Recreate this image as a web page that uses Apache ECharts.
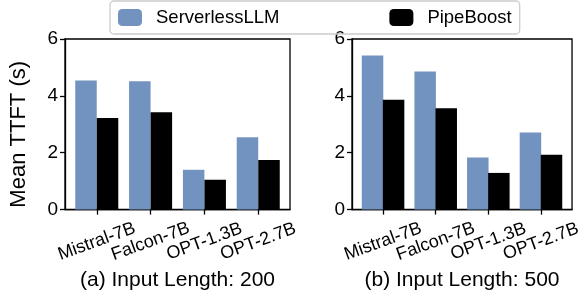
<!DOCTYPE html>
<html>
<head>
<meta charset="utf-8">
<script src="https://cdn.jsdelivr.net/npm/echarts@6/dist/echarts.min.js"></script>
<style>
  html, body { margin: 0; padding: 0; background: #fff; }
  #chart { width: 584px; height: 296px; }
</style>
</head>
<body>
<div id="chart"></div>
<script>
// data
var models = ['Mistral-7B', 'Falcon-7B', 'OPT-1.3B', 'OPT-2.7B'];
var sllm200 = [4.54, 4.51, 1.40, 2.54];
var boost200 = [3.22, 3.42, 1.05, 1.74];
var sllm500 = [5.42, 4.86, 1.83, 2.71];
var boost500 = [3.86, 3.56, 1.29, 1.93];
var yTicks = [0, 2, 4, 6];
var captions = ['(a) Input Length: 200', '(b) Input Length: 500'];

var FONT = 'Liberation Sans, Arial, sans-serif';
var BLUE = '#7293c0';

var chart = echarts.init(document.getElementById('chart'));

// bar centre = category index +/- half a bar (matplotlib style)
function place(vals, shift) {
    return vals.map(function(v, i) { return [i + shift, v]; });
}

function xAxisFor(gi) {
    return {
        type: 'value', gridIndex: gi,
        min: -0.59, max: 3.59,
        name: captions[gi], nameLocation: 'middle', nameGap: 37,
        nameTextStyle: { fontFamily: FONT, fontSize: 21, color: '#000' },
        axisLine: { show: true, onZero: false, lineStyle: { color: '#000', width: 1.3 } },
        axisTick: { show: true, customValues: [0, 1, 2, 3], length: 5, lineStyle: { color: '#000', width: 1.3 } },
        axisLabel: {
            customValues: [0, 1, 2, 3],
            formatter: function(v) { return models[Math.round(v)]; },
            rotate: 20, align: 'center', verticalAlign: 'middle', margin: 32,
            hideOverlap: false, showMinLabel: true, showMaxLabel: true,
            fontFamily: FONT, fontSize: 18, color: '#000'
        },
        splitLine: { show: false }
    };
}

function yAxisFor(gi) {
    return {
        type: 'value', gridIndex: gi,
        min: yTicks[0], max: yTicks[yTicks.length - 1], interval: 2,
        name: gi === 0 ? 'Mean TTFT (s)' : '', nameLocation: 'middle', nameGap: 35,
        nameTextStyle: { fontFamily: FONT, fontSize: 22, color: '#000', padding: [0, 20, 0, 0] },
        axisLine: { show: true, onZero: false, lineStyle: { color: '#000', width: 1.3 } },
        axisTick: { show: true, length: 5, lineStyle: { color: '#000', width: 1.3 } },
        axisLabel: { fontFamily: FONT, fontSize: 19, color: '#000', margin: 7 },
        splitLine: { show: false }
    };
}

function barSeries(name, vals, shift, gi, color) {
    return {
        name: name, type: 'bar',
        xAxisIndex: gi, yAxisIndex: gi,
        data: place(vals, shift),
        barWidth: 21.5, barGap: '-100%',
        itemStyle: { color: color },
        animation: false
    };
}

chart.setOption({
    backgroundColor: '#fff',
    animation: false,
    legend: {
        data: ['ServerlessLLM', 'PipeBoost'],
        left: 110, top: 1,
        padding: [7, 8, 7, 8],
        itemWidth: 24, itemHeight: 17,
        itemGap: 110,
        borderColor: '#cccccc', borderWidth: 1.3, borderRadius: 4,
        textStyle: { fontFamily: FONT, fontSize: 18.5, color: '#000', padding: [0, 0, 0, 9] }
    },
    grid: [
        { left: 65, top: 39, width: 225, height: 177, show: true, borderColor: '#000', borderWidth: 1.3, backgroundColor: 'transparent' },
        { left: 352, top: 39, width: 224, height: 177, show: true, borderColor: '#000', borderWidth: 1.3, backgroundColor: 'transparent' }
    ],
    xAxis: [xAxisFor(0), xAxisFor(1)],
    yAxis: [yAxisFor(0), yAxisFor(1)],
    series: [
        barSeries('ServerlessLLM', sllm200, -0.2, 0, BLUE),
        barSeries('PipeBoost', boost200, 0.2, 0, '#000'),
        barSeries('ServerlessLLM', sllm500, -0.2, 1, BLUE),
        barSeries('PipeBoost', boost500, 0.2, 1, '#000')
    ]
});
</script>
</body>
</html>
